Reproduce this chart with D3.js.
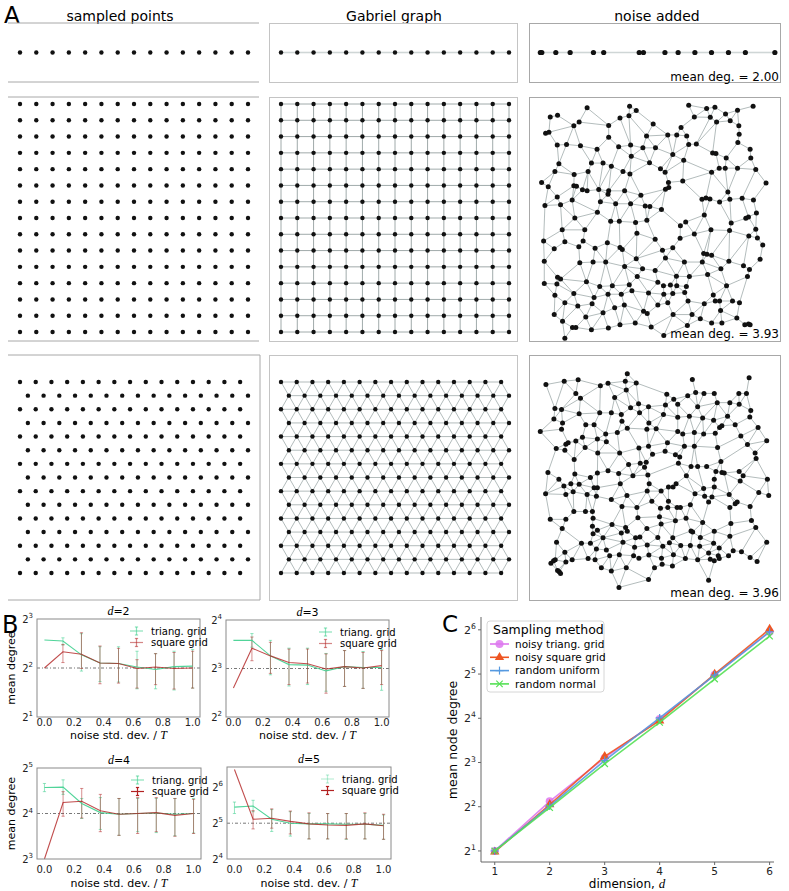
<!DOCTYPE html>
<html><head><meta charset="utf-8">
<script src="https://cdn.jsdelivr.net/npm/d3@7"></script>
<style>body{margin:0;background:#fff}</style>
</head><body>
<script>
// ---------------- DATA ----------------
const colTitles = ["sampled points", "Gabriel graph", "noise added"];
const gridCols = [0,1,2,3,4,5,6,7,8,9,10,11,12,13,14];
const gridRows = [0,1,2,3,4,5,6,7,8,9,10,11,12,13,14];
const triRowShift = [0,0.5,0,0.5,0,0.5,0,0.5,0,0.5,0,0.5,0,0.5,0];
// 1D noisy positions (grid units)
const noise1D = [-0.04,0.05,0.91,1.79,3.22,3.85,6.03,6.29,7.61,8.42,9.45,10.47,11.51,12.55,14.36];
const meanDegLabels = ["mean deg. = 2.00", "mean deg. = 3.93", "mean deg. = 3.96"];
// noisy square grid points (read-off units, panel box = [22,778]x[18,738])
const noiseSquare = [[197,50],[325,45],[503,42],[557,52],[582,48],[697,45],
[108,72],[86,77],[157,103],[173,92],[262,102],[296,80],[323,73],[345,58],[396,98],[480,108],[520,77],[587,92],[628,88],[650,57],[614,68],[568,78],
[72,125],[82,122],[262,137],[376,133],[440,130],[467,130],[497,133],[655,128],[654,103],
[107,160],[135,158],[177,162],[227,172],[292,165],[328,160],[365,168],[403,168],[455,188],[503,158],[526,157],[488,205],[575,183],[585,185],[616,198],[651,152],[688,172],[690,198],
[112,215],[210,213],[245,213],[270,222],[330,193],[385,212],[418,230],[432,240],[572,240],[595,228],[613,228],[650,228],[705,232],
[100,238],[158,247],[200,238],[305,238],[326,245],
[60,270],[80,283],[157,280],[165,281],[183,292],[197,295],[232,291],[262,295],[310,295],[359,308],[442,270],[433,290],[443,285],[485,266],[621,298],[736,272],
[107,313],[152,322],[237,327],[260,305],[283,333],[328,333],[372,340],[386,341],[421,350],[543,320],[555,316],[567,319],[596,328],[627,320],[664,317],[698,322],[70,338],[117,336],
[160,375],[228,358],[268,385],[294,385],[343,388],[377,382],[494,387],[550,366],[631,390],[675,376],[683,372],[707,360],
[122,410],[190,410],[347,420],[478,398],[520,422],[570,410],[626,412],[705,408],
[66,443],[130,445],[185,443],[258,448],[296,462],[303,468],[402,438],[455,463],[477,435],[684,428],[710,434],
[98,466],[172,460],[221,464],[424,470],[548,480],[558,482],[572,485],[726,455],[668,516],[345,495],[433,493],[490,505],[68,503],[175,507],[215,505],[253,505],[718,497],
[310,518],[364,525],[402,530],[544,505],[624,503],[686,527],[348,548],[466,547],[505,548],[560,542],[600,525],[680,548],
[108,550],[117,555],[68,568],[106,570],[195,563],[235,577],[273,575],[324,572],[410,565],[427,575],[448,573],[467,575],[496,577],[617,575],
[100,603],[157,598],[218,610],[260,600],[300,600],[332,590],[382,596],[428,600],[455,598],[491,595],[577,602],
[550,628],[583,620],[596,620],[635,620],[656,625],[212,628],[130,625],[169,635],[280,640],[309,632],[410,632],[440,625],[501,620],
[98,660],[193,667],[245,655],[367,650],[378,657],[456,660],[513,660],[599,648],[648,670],
[123,680],[153,698],[163,698],[210,705],[261,700],[296,690],[342,685],[390,697],[499,692],[538,672],[572,685],[603,685],[672,690],[683,688],[688,690],
[130,730],[428,722]];
// noisy triangular grid points (read-off units, panel box = [22,778]x[30,750])
const noiseTriang = [[318,85],[685,97],[73,117],[128,107],[170,103],[237,120],[260,113],[312,107],[345,112],[514,102],
[437,145],[458,160],[500,150],[524,140],[549,143],[580,143],[654,143],[677,143],[163,143],[177,157],[280,155],[315,133],
[100,187],[120,190],[328,185],[352,173],[382,182],[433,177],[470,175],[530,182],[589,170],[627,170],[655,175],[690,193],
[235,200],[270,200],[300,205],[173,203],[355,200],[427,205],
[97,218],[123,230],[193,235],[218,235],[302,225],[383,230],[470,213],[505,210],[545,215],[578,222],[620,210],[687,212],[596,243],[603,238],[643,235],
[56,255],[120,248],[183,272],[163,283],[253,262],[288,258],[318,245],[377,248],[405,247],[470,255],[485,262],[520,258],[548,262],[583,260],[712,243],
[140,288],[133,292],[228,277],[255,285],[382,298],[439,288],[490,298],[520,298],[590,302],[680,293],[738,282],[660,268],
[104,305],[130,310],[191,302],[229,318],[295,318],[353,303],[394,322],[432,313],[463,323],[476,330],[472,348],[703,318],[706,334],
[158,337],[322,352],[357,348],[375,345],[370,360],[510,358],[530,358],[557,358],[600,343],
[79,375],[112,395],[127,415],[160,380],[148,408],[173,410],[207,390],[228,377],[260,370],[292,378],[335,385],[380,383],[496,385],[465,408],[442,418],[585,372],[603,375],[610,377],[655,372],[667,385],[658,400],[740,395],[580,395],
[72,438],[133,440],[155,432],[218,420],[228,420],[297,408],[384,408],[378,430],[420,430],[456,418],[548,422],[580,418],[522,438],[625,440],[714,434],[744,443],
[197,440],[225,445],[317,443],[392,460],[442,460],[468,478],[478,478],[551,445],[563,462],[573,447],[649,462],[643,467],
[86,513],[133,513],[157,490],[192,490],[213,490],[215,510],[270,455],[302,475],[347,478],[418,480],[440,478],[627,478],[688,475],[508,470],
[122,540],[213,533],[228,545],[215,555],[272,528],[313,537],[318,548],[350,508],[377,540],[415,505],[420,527],[463,517],[495,510],[510,547],[515,550],[545,522],[630,525],[692,516],[705,537],
[245,567],[300,553],[343,567],[356,565],[410,566],[455,567],[538,566],[580,548],[627,563],
[105,580],[180,583],[207,583],[305,580],[340,595],[378,588],[425,592],[445,582],[479,590],[508,590],[536,592],[578,583],[595,597],[738,580],[637,605],[662,608],
[130,610],[255,603],[225,600],[383,618],[457,617],[563,612],[592,620],[623,620],[337,620],
[101,632],[133,638],[152,632],[200,628],[221,632],[265,620],[294,617],[353,627],[421,627],[493,628],[530,632],[568,630],[580,635],[595,628],[688,625],[709,637],
[88,642],[96,635],[113,667],[108,663],[117,672],[240,655],[270,665],[315,655],[400,655],[423,645],[454,650],[563,692],[382,690],[293,713]];

// Panel B: noise level vs mean degree
const noiseLevels = [0,0.125,0.25,0.375,0.5,0.625,0.75,0.875,1.0];
const xTicksB = [0,0.2,0.4,0.6,0.8,1.0];
const dimsB = [2,3,4,5];
const triMean2 = [5.94,5.86,4.82,4.29,4.26,4.06,3.92,4.08,4.11];
const triLo2   = [5.94,5.53,3.83,3.30,3.28,2.98,2.98,2.93,3.01];
const triHi2   = [5.94,6.13,6.50,5.40,5.40,5.07,4.90,5.07,5.20];
const sqMean2  = [4.00,5.03,4.86,4.29,4.26,3.97,4.06,3.97,4.00];
const sqLo2    = [4.00,4.32,3.97,3.20,3.23,3.01,3.16,2.97,3.01];
const sqHi2    = [4.00,5.58,6.59,5.46,5.28,4.50,4.90,4.98,5.07];
const triMean3 = [11.96,11.96,9.58,8.46,8.40,7.73,8.22,8.11,8.11];
const triLo3   = [11.96,10.85,7.31,6.23,6.36,5.78,6.19,6.02,5.86];
const triHi3   = [11.96,13.18,11.96,10.70,10.70,9.92,10.34,10.20,10.48];
const sqMean3  = [6.06,10.70,9.58,8.72,8.57,7.94,8.22,8.06,8.34];
const sqLo3    = [6.06,8.94,7.46,6.36,6.50,5.62,6.19,6.02,6.36];
const sqHi3    = [6.06,12.55,11.63,10.56,10.56,9.85,10.34,10.06,10.34];
const triMean4 = [23.75,23.92,18.64,16.22,15.83,16.0,16.11,15.83,16.0];
const triLo4   = [22.32,21.41,14.83,12.55,11.47,12.13,11.96,11.39,11.88];
const triHi4   = [25.28,26.72,20.11,20.39,20.11,20.11,20.11,20.11,20.11];
const sqMean4  = [8.0,18.90,19.29,16.68,15.83,16.0,16.22,15.56,16.0];
const sqLo4    = [8.0,15.35,14.93,12.13,11.47,11.80,12.13,11.31,11.80];
const sqHi4    = [8.0,22.32,23.43,21.41,20.11,20.39,20.39,20.11,19.84];
const triMean5 = [43.71,44.63,34.54,32.0,31.56,31.56,31.34,31.34,30.70];
const triLo5   = [38.58,39.95,27.28,24.93,23.59,23.59,23.43,23.59,23.43];
const triHi5   = [48.17,49.87,41.64,39.95,38.58,38.58,38.58,38.58,37.53];
const sqMean5  = [90.51,34.54,35.26,33.13,31.56,30.91,30.70,31.56,30.48];
const sqLo5    = [90.51,28.64,29.04,25.99,23.59,23.59,23.59,23.59,23.43];
const sqHi5    = [90.51,40.79,42.22,40.50,39.12,38.58,38.58,39.12,38.05];
const yDomB = [[2,8],[4,16],[8,32],[16,95]];
const refDegB = [4,8,16,32];

// Panel C
const dimsC = [1,2,3,4,5,6];
const cNames = ["noisy triang. grid","noisy square grid","random uniform","random normal"];
const cTriang  = [2.0,4.35,8.6,15.8,31.6,62];
const cSquare  = [1.97,4.14,8.8,15.4,32,64.7];
const cUniform = [2.0,4.04,8.25,16.1,31.5,62];
const cNormal  = [2.0,3.94,7.84,15.0,29.6,58];
const yTicksC = [2,4,8,16,32,64];

// ---------------- DRAWING ----------------
const W = 789, H = 891;
const svg = d3.select("body").append("svg").attr("width", W).attr("height", H)
  .style("font-family", "'DejaVu Sans', sans-serif");

function gabriel(pts) {
  const n = pts.length, E = [];
  for (let i = 0; i < n; i++) for (let j = i + 1; j < n; j++) {
    const dx = pts[i][0] - pts[j][0], dy = pts[i][1] - pts[j][1];
    const r2 = (dx*dx + dy*dy) / 4;
    if (r2 > 3600) continue;
    const mx = (pts[i][0] + pts[j][0]) / 2, my = (pts[i][1] + pts[j][1]) / 2;
    let ok = true;
    for (let k = 0; k < n; k++) {
      if (k === i || k === j) continue;
      const ex = pts[k][0] - mx, ey = pts[k][1] - my;
      if (ex*ex + ey*ey <= r2 * (1 + 1e-6)) { ok = false; break; }
    }
    if (ok) E.push([i, j]);
  }
  return E;
}

const EDGE = "#8f9b9b";
function drawGraph(g, pts, edges, edgeW) {
  g.append("g").selectAll("line").data(edges).join("line")
    .attr("x1", e => pts[e[0]][0]).attr("y1", e => pts[e[0]][1])
    .attr("x2", e => pts[e[1]][0]).attr("y2", e => pts[e[1]][1])
    .attr("stroke", EDGE).attr("stroke-width", edgeW || 0.8).attr("stroke-opacity", 0.85);
}
function drawDots(g, pts, r) {
  g.append("g").selectAll("circle").data(pts).join("circle")
    .attr("cx", p => p[0]).attr("cy", p => p[1]).attr("r", r || 2.3).attr("fill", "#111");
}

// ----- Panel A -----
const A = svg.append("g");
A.append("text").attr("x", 4).attr("y", 23).attr("font-size", 23).text("A");
const colX0 = [8, 269, 529], colX1 = [259, 517, 780];
const rowY0 = [23, 97, 355], rowY1 = [82, 341, 600];
const titleX = [120, 394, 657];
colTitles.forEach((t, i) => A.append("text").attr("x", titleX[i]).attr("y", 21)
  .attr("text-anchor", "middle").attr("font-size", 14).text(t));
const FRAME = "#a8a8a8";
for (let r = 0; r < 3; r++) {
  A.append("line").attr("x1", colX0[0]).attr("x2", colX1[0] + (r === 2 ? 1 : 0)).attr("y1", rowY0[r]).attr("y2", rowY0[r]).attr("stroke", FRAME);
  A.append("line").attr("x1", colX0[0]).attr("x2", colX1[0] + (r === 2 ? 1 : 0)).attr("y1", rowY1[r]).attr("y2", rowY1[r]).attr("stroke", FRAME);
  if (r === 2) A.append("line").attr("x1", colX1[0] + 1).attr("x2", colX1[0] + 1).attr("y1", rowY0[r]).attr("y2", rowY1[r]).attr("stroke", FRAME);
  for (let c = 1; c < 3; c++) A.append("rect").attr("x", colX0[c] + 0.5).attr("y", rowY0[r] + 0.5)
    .attr("width", colX1[c] - colX0[c]).attr("height", rowY1[r] - rowY0[r])
    .attr("fill", "none").attr("stroke", c === 1 ? "#c4c4c4" : FRAME);
}
// Row 1: 1D
const y1D = (rowY0[0] + rowY1[0]) / 2;
for (let c = 0; c < 3; c++) {
  const xs = d3.scaleLinear().domain([0, 14]).range([colX0[c] + 12, colX0[c] + 240]);
  const vals = c < 2 ? gridCols : noise1D;
  const pts = vals.map(v => [xs(v), y1D]);
  if (c > 0) {
    const edges = d3.range(pts.length - 1).map(i => [i, i + 1]);
    A.append("g").selectAll("line").data(edges).join("line")
      .attr("x1", e => pts[e[0]][0]).attr("x2", e => pts[e[1]][0]).attr("y1", y1D).attr("y2", y1D)
      .attr("stroke", "#cfd6d6").attr("stroke-width", 1.6);
  }
  drawDots(A, pts, c === 2 ? 2.6 : 2.2);
}
// Row 2: square grid
const sqPts = [];
gridRows.forEach(r => gridCols.forEach(c => sqPts.push([c, r])));
for (let c = 0; c < 2; c++) {
  const xs = d3.scaleLinear().domain([0, 14]).range([colX0[c] + 12, colX0[c] + 240]);
  const ys = d3.scaleLinear().domain([0, 14]).range([104, 332]);
  const pts = sqPts.map(p => [xs(p[0]), ys(p[1])]);
  if (c === 1) drawGraph(A, pts, gabriel(pts), 1.0);
  drawDots(A, pts, 2.2);
}
// Row 3: triangular grid
const triPts = [];
gridRows.forEach(r => gridCols.forEach(c => triPts.push([c + triRowShift[r], r])));
for (let c = 0; c < 2; c++) {
  const xs = d3.scaleLinear().domain([0, 14.5]).range([colX0[c] + 12, colX0[c] + 240]);
  const ys = d3.scaleLinear().domain([0, 14]).range([382, 573]);
  const pts = triPts.map(p => [xs(p[0]), ys(p[1])]);
  if (c === 1) drawGraph(A, pts, gabriel(pts), 0.8);
  drawDots(A, pts, 2.2);
}
// noise panels rows 2 and 3
[[noiseSquare, [18, 738]], [noiseTriang, [30, 750]]].forEach(([data, yd], k) => {
  const r = k + 1;
  const xs = d3.scaleLinear().domain([22, 778]).range([colX0[2], colX1[2]]);
  const ys = d3.scaleLinear().domain(yd).range([rowY0[r], rowY1[r]]);
  const pts = data.map(p => [xs(p[0]), ys(p[1])]);
  drawGraph(A, pts, gabriel(pts), 0.8);
  drawDots(A, pts, 2.5);
});
meanDegLabels.forEach((t, r) => A.append("text").attr("x", colX1[2] - 1).attr("y", rowY1[r] - (r === 0 ? 1 : 3))
  .attr("text-anchor", "end").attr("font-size", 12).text(t));

// ----- Panel B -----
const B = svg.append("g");
B.append("text").attr("x", 2).attr("y", 633).attr("font-size", 24).text("B");
const GREEN = "#3ecf8e", RED = "#b22222";
const subLayouts = [
  {x0: 37, x1: 200, y0: 619, y1: 717, tickY: 726, labY: 739, ylab: true},
  {x0: 226, x1: 389, y0: 620, y1: 717, tickY: 726, labY: 739, ylab: false},
  {x0: 37, x1: 201, y0: 768, y1: 859, tickY: 873, labY: 887, ylab: true},
  {x0: 227, x1: 391, y0: 767, y1: 859, tickY: 873, labY: 887, ylab: false}
];
const seriesB = [
  [triMean2, triLo2, triHi2, sqMean2, sqLo2, sqHi2],
  [triMean3, triLo3, triHi3, sqMean3, sqLo3, sqHi3],
  [triMean4, triLo4, triHi4, sqMean4, sqLo4, sqHi4],
  [triMean5, triLo5, triHi5, sqMean5, sqLo5, sqHi5]
];
const legendAlpha = [[0.6, 0.55], [0.6, 0.55], [0.6, 1.0], [0.35, 1.0]];

function pow2Label(sel, exp, fs) {
  sel.text(null);
  sel.append("tspan").text("2");
  sel.append("tspan").attr("dy", -fs * 0.45).attr("font-size", fs * 0.7).text(exp);
}

dimsB.forEach((d, i) => {
  const L = subLayouts[i];
  const [tM, tL, tH, sM, sL, sH] = seriesB[i];
  const g = B.append("g");
  const x = d3.scaleLinear().domain([-0.05, 1.05]).range([L.x0, L.x1]);
  const y = d3.scaleLog().base(2).domain(yDomB[i]).range([L.y1, L.y0]);
  const tt = g.append("text").attr("x", (L.x0 + L.x1) / 2).attr("y", L.y0 - 4).attr("text-anchor", "middle").attr("font-size", 11);
  tt.append("tspan").attr("font-family", "'Liberation Serif', serif").attr("font-style", "italic").attr("font-size", 12).text("d");
  tt.append("tspan").text("=" + d);
  g.append("line").attr("x1", L.x0).attr("x2", L.x1).attr("y1", y(refDegB[i])).attr("y2", y(refDegB[i]))
    .attr("stroke", "#555").attr("stroke-width", 0.8).attr("stroke-dasharray", "3,2,1,2");
  const drawErr = (M, Lo, Hi, col, op) => {
    const eg = g.append("g").attr("stroke", col).attr("stroke-opacity", op).attr("stroke-width", 1);
    noiseLevels.forEach((n, k) => {
      if (Hi[k] === Lo[k]) return;
      const xx = x(n);
      eg.append("line").attr("x1", xx).attr("x2", xx).attr("y1", y(Lo[k])).attr("y2", y(Hi[k]));
      eg.append("line").attr("x1", xx - 1.6).attr("x2", xx + 1.6).attr("y1", y(Lo[k])).attr("y2", y(Lo[k]));
      eg.append("line").attr("x1", xx - 1.6).attr("x2", xx + 1.6).attr("y1", y(Hi[k])).attr("y2", y(Hi[k]));
    });
  };
  drawErr(tM, tL, tH, GREEN, 0.55);
  drawErr(sM, sL, sH, RED, 0.5);
  const line = d3.line().x((v, k) => x(noiseLevels[k])).y(v => y(v));
  g.append("path").attr("d", line(tM)).attr("fill", "none").attr("stroke", GREEN).attr("stroke-width", 1.1).attr("stroke-opacity", 0.9);
  g.append("path").attr("d", line(sM)).attr("fill", "none").attr("stroke", RED).attr("stroke-width", 1.1).attr("stroke-opacity", 0.8);
  g.append("rect").attr("x", L.x0).attr("y", L.y0).attr("width", L.x1 - L.x0).attr("height", L.y1 - L.y0)
    .attr("fill", "none").attr("stroke", "#8a8a8a").attr("stroke-width", 1);
  xTicksB.forEach(t => {
    g.append("text").attr("x", x(t)).attr("y", L.tickY).attr("text-anchor", "middle").attr("font-size", 10).attr("fill", "#222").text(d3.format(".1f")(t));
  });
  const e0 = Math.ceil(Math.log2(yDomB[i][0])), e1 = Math.floor(Math.log2(yDomB[i][1]));
  d3.range(e0, e1 + 1).forEach(e => {
    const tx = g.append("text").attr("x", L.x0 - 4).attr("y", y(Math.pow(2, e)) + 3.5).attr("text-anchor", "end").attr("font-size", 10).attr("fill", "#222");
    pow2Label(tx, e, 10);
  });
  const xl = g.append("text").attr("x", (L.x0 + L.x1) / 2).attr("y", L.labY).attr("text-anchor", "middle").attr("font-size", 11);
  xl.append("tspan").text("noise std. dev. / ");
  xl.append("tspan").attr("font-family", "'Liberation Serif', serif").attr("font-style", "italic").attr("font-size", 12).text("T");
  if (L.ylab) g.append("text").attr("transform", `translate(15,${(L.y0 + L.y1) / 2}) rotate(-90)`).attr("text-anchor", "middle").attr("font-size", 11).text("mean degree");
  const names = ["triang. grid", "square grid"], cols = [GREEN, RED];
  names.forEach((nm, k) => {
    const ly = L.y0 + 12 + k * 11.5;
    const hx0 = L.x1 - 70, hx1 = L.x1 - 57, hc = (hx0 + hx1) / 2;
    const lg = g.append("g").attr("stroke", cols[k]).attr("stroke-opacity", legendAlpha[i][k]).attr("stroke-width", 1.2);
    lg.append("line").attr("x1", hx0).attr("x2", hx1).attr("y1", ly).attr("y2", ly);
    lg.append("line").attr("x1", hc).attr("x2", hc).attr("y1", ly - 4).attr("y2", ly + 4);
    lg.append("line").attr("x1", hc - 1.6).attr("x2", hc + 1.6).attr("y1", ly - 4).attr("y2", ly - 4);
    lg.append("line").attr("x1", hc - 1.6).attr("x2", hc + 1.6).attr("y1", ly + 4).attr("y2", ly + 4);
    g.append("text").attr("x", L.x1 - 49).attr("y", ly + 3.5).attr("font-size", 10).text(nm);
  });
});

// ----- Panel C -----
const C = svg.append("g");
C.append("text").attr("x", 442).attr("y", 632).attr("font-size", 23).text("C");
const cx = d3.scaleLinear().domain([0.75, 6.08]).range([481, 774]);
const cy = d3.scaleLog().base(2).domain([Math.pow(2, 0.75), Math.pow(2, 6.29)]).range([862, 617]);
C.append("line").attr("x1", 481).attr("x2", 481).attr("y1", cy.range()[1]).attr("y2", cy.range()[0]).attr("stroke", "#666");
C.append("line").attr("x1", 481).attr("x2", 774).attr("y1", 862).attr("y2", 862).attr("stroke", "#666");
dimsC.forEach(dv => {
  C.append("line").attr("x1", cx(dv)).attr("x2", cx(dv)).attr("y1", 862).attr("y2", 865).attr("stroke", "#666");
  C.append("text").attr("x", cx(dv)).attr("y", 875).attr("text-anchor", "middle").attr("font-size", 10.5).attr("fill", "#222").text(dv);
});
yTicksC.forEach(v => {
  C.append("line").attr("x1", 478).attr("x2", 481).attr("y1", cy(v)).attr("y2", cy(v)).attr("stroke", "#666");
  const tx = C.append("text").attr("x", 476).attr("y", cy(v) + 4).attr("text-anchor", "end").attr("font-size", 11).attr("fill", "#222");
  pow2Label(tx, Math.round(Math.log2(v)), 11);
});
C.append("text").attr("transform", "translate(457,740) rotate(-90)").attr("text-anchor", "middle").attr("font-size", 12.5).text("mean node degree");
const cxl = C.append("text").attr("x", 627).attr("y", 888).attr("text-anchor", "middle").attr("font-size", 12);
cxl.append("tspan").text("dimension, ");
cxl.append("tspan").attr("font-family", "'Liberation Serif', serif").attr("font-style", "italic").attr("font-size", 13).text("d");

const cSeries = [cTriang, cSquare, cUniform, cNormal];
const cColors = ["#dd77ee", "#ee5522", "#5599e0", "#55e055"];
const cMarkers = ["circle", "triangle", "plus", "x"];
function marker(g, type, px, py, col) {
  if (type === "circle") g.append("circle").attr("cx", px).attr("cy", py).attr("r", 4).attr("fill", col).attr("fill-opacity", 0.85);
  else if (type === "triangle") g.append("path").attr("transform", `translate(${px},${py})`).attr("d", d3.symbol(d3.symbolTriangle, 38)()).attr("fill", col);
  else if (type === "plus") {
    g.append("line").attr("x1", px - 4).attr("x2", px + 4).attr("y1", py).attr("y2", py).attr("stroke", col).attr("stroke-width", 1.2);
    g.append("line").attr("x1", px).attr("x2", px).attr("y1", py - 4).attr("y2", py + 4).attr("stroke", col).attr("stroke-width", 1.2);
  } else {
    g.append("line").attr("x1", px - 3.2).attr("x2", px + 3.2).attr("y1", py - 3.2).attr("y2", py + 3.2).attr("stroke", col).attr("stroke-width", 1.2);
    g.append("line").attr("x1", px - 3.2).attr("x2", px + 3.2).attr("y1", py + 3.2).attr("y2", py - 3.2).attr("stroke", col).attr("stroke-width", 1.2);
  }
}
const cLine = d3.line().x((v, k) => cx(dimsC[k])).y(v => cy(v));
cSeries.forEach((s, i) => {
  const g = C.append("g");
  g.append("path").attr("d", cLine(s)).attr("fill", "none").attr("stroke", cColors[i]).attr("stroke-width", 1.6).attr("stroke-opacity", 0.9);
  s.forEach((v, k) => marker(g, cMarkers[i], cx(dimsC[k]), cy(v), cColors[i]));
});
const lgC = C.append("g");
lgC.append("rect").attr("x", 487).attr("y", 621).attr("width", 117).attr("height", 71).attr("rx", 3)
  .attr("fill", "#fff").attr("fill-opacity", 0.85).attr("stroke", "#d6d6d6");
lgC.append("text").attr("x", 493).attr("y", 634).attr("font-size", 12.5).text("Sampling method");
cNames.forEach((nm, i) => {
  const ly = 644 + i * 13.3;
  lgC.append("line").attr("x1", 490).attr("x2", 509).attr("y1", ly).attr("y2", ly).attr("stroke", cColors[i]).attr("stroke-width", 1.6);
  marker(lgC, cMarkers[i], 499.5, ly, cColors[i]);
  lgC.append("text").attr("x", 515).attr("y", ly + 3.8).attr("font-size", 10.5).text(nm);
});
</script>
</body></html>
